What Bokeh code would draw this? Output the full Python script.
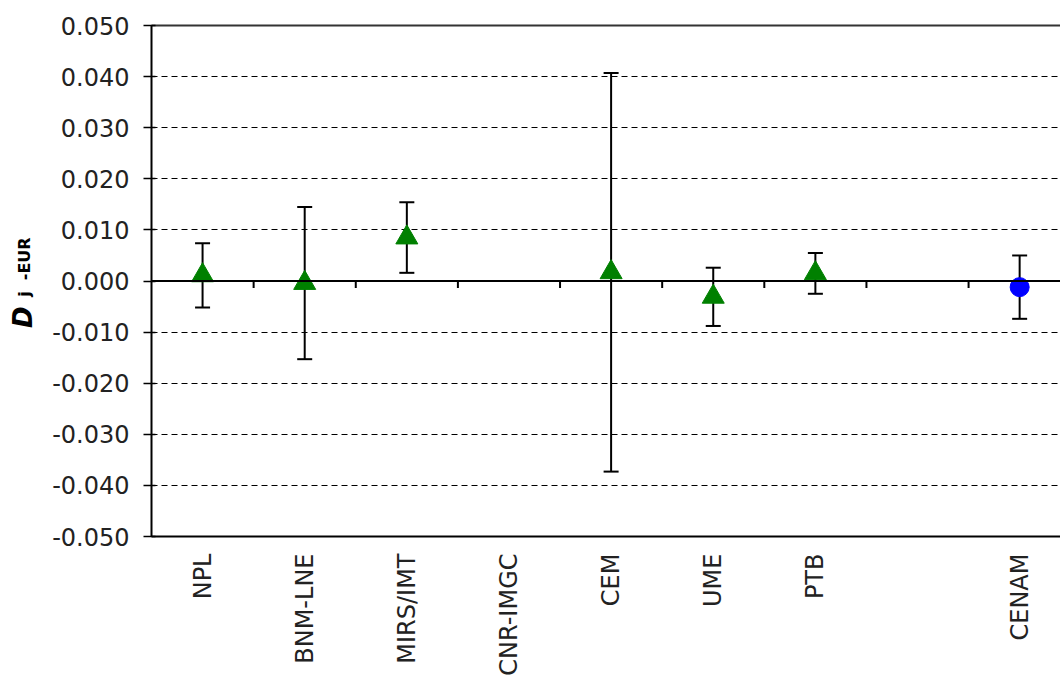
import math
from bokeh.plotting import figure
from bokeh.models import (Range1d, FixedTicker, NumeralTickFormatter, LinearAxis, Span,
                          ColumnDataSource, Grid)
from bokeh.embed import file_html
from bokeh.resources import INLINE

# ---------------- data ----------------
categories = ["NPL", "BNM-LNE", "MIRS/IMT", "CNR-IMGC", "CEM", "UME", "PTB", "", "CENAM"]

eur_names = ["NPL", "BNM-LNE", "MIRS/IMT", "CEM", "UME", "PTB"]
eur_values = [0.0011, -0.0004, 0.0085, 0.0017, -0.0031, 0.0015]
eur_uncert = [0.0063, 0.0149, 0.0069, 0.0390, 0.0057, 0.0040]

link_names = ["CENAM"]
link_values = [-0.0012]
link_uncert = [0.0062]

y_ticks = [-0.050, -0.040, -0.030, -0.020, -0.010, 0.000, 0.010, 0.020, 0.030, 0.040, 0.050]

title_main = "D"
title_sub = ["j", "-EUR"]

FONT = "DejaVu Sans"
NB = "\u00a0"

# ---------------- figure ----------------
p = figure(width=1060, height=679, output_backend="svg", toolbar_location=None,
           x_range=Range1d(0, 8.9), y_range=Range1d(-0.05, 0.05),
           x_axis_location=None, y_axis_location=None,
           min_border_left=151, min_border_right=0, min_border_top=25, min_border_bottom=143)
p.outline_line_color = None
p.background_fill_color = "white"
p.border_fill_color = "white"
for g in p.grid:
    g.visible = False

# value axis (its axis label carries the subscript part of the title)
yaxis = LinearAxis(ticker=FixedTicker(ticks=y_ticks), formatter=NumeralTickFormatter(format="0.000"),
                   axis_line_color="black", axis_line_width=2,
                   major_tick_line_color="black", major_tick_line_width=1.5,
                   major_tick_in=4, major_tick_out=8, minor_tick_line_color=None,
                   major_label_text_font=FONT, major_label_text_font_size="24px",
                   major_label_text_color="#222222", major_label_standoff=14,
                   axis_label=NB * 5 + title_sub[0] + NB * 2 + title_sub[1],
                   axis_label_text_font=FONT, axis_label_text_font_size="16px",
                   axis_label_text_font_style="bold", axis_label_text_color="black",
                   axis_label_standoff=15)
p.add_layout(yaxis, "left")

# outer helper axis carrying the main letter of the title (overlapping via negative standoff)
title_axis = LinearAxis(ticker=FixedTicker(ticks=[]), axis_line_color=None,
                        major_tick_line_color=None, minor_tick_line_color=None,
                        major_tick_in=0, major_tick_out=0, major_label_standoff=0,
                        major_label_text_font_size="0px",
                        axis_label=title_main + NB * 8,
                        axis_label_text_font=FONT, axis_label_text_font_size="26px",
                        axis_label_text_font_style="bold italic", axis_label_text_color="black",
                        axis_label_standoff=-25)
p.add_layout(title_axis, "left")

centers = [i + 0.5 for i in range(len(categories))]
xaxis = LinearAxis(ticker=FixedTicker(ticks=centers),
                   major_label_overrides={c: n for c, n in zip(centers, categories)},
                   axis_line_color="black", axis_line_width=2,
                   major_tick_line_color=None, major_tick_in=0, major_tick_out=0,
                   minor_tick_line_color=None, major_label_orientation=math.pi / 2,
                   major_label_text_font=FONT, major_label_text_font_size="24px",
                   major_label_text_color="#222222", major_label_standoff=17)
p.add_layout(xaxis, "below")

top = LinearAxis(ticker=FixedTicker(ticks=[]), axis_line_color="#333333", axis_line_width=2,
                 major_tick_line_color=None, minor_tick_line_color=None,
                 major_label_text_font_size="0px")
p.add_layout(top, "above")

grid = Grid(dimension=1, ticker=yaxis.ticker, grid_line_color="black",
            grid_line_dash="6 4", grid_line_width=1)
p.add_layout(grid)

p.add_layout(Span(location=0, dimension="width", line_color="black", line_width=2))

bounds = [float(i) for i in range(1, len(categories))]
p.ray(x=bounds, y=[0.0] * len(bounds), length=7, length_units="screen",
      angle=-math.pi / 2, line_color="black", line_width=2)


def add_series(names, vals, unc, marker, color, size):
    xs = [categories.index(n) + 0.5 for n in names]
    src = ColumnDataSource(dict(x=xs, y=vals,
                                lo=[v - u for v, u in zip(vals, unc)],
                                hi=[v + u for v, u in zip(vals, unc)]))
    p.segment(x0="x", y0="lo", x1="x", y1="hi", source=src, line_color="black", line_width=2)
    p.scatter(x="x", y="hi", marker="dash", size=15, line_color="black", line_width=2, source=src)
    p.scatter(x="x", y="lo", marker="dash", size=15, line_color="black", line_width=2, source=src)
    p.scatter(x="x", y="y", marker=marker, size=size, fill_color=color, line_color=color, source=src)


add_series(eur_names, eur_values, eur_uncert, "triangle", "#008000", 22)
add_series(link_names, link_values, link_uncert, "circle", "#0000FF", 19)

open("out.html", "w").write(file_html(p, INLINE))
